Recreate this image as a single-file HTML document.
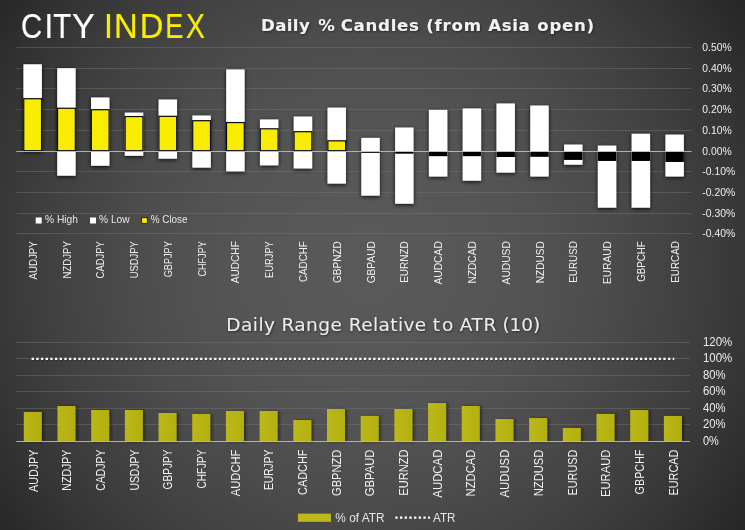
<!DOCTYPE html>
<html lang="en"><head><meta charset="utf-8"><title>City Index - Daily % Candles</title>
<style>
html,body{margin:0;padding:0;background:#262626;}
body{width:745px;height:530px;overflow:hidden;}
svg{display:block;}
text{font-family:"Liberation Sans",Arial,sans-serif;}
.ax{font-size:10.5px;fill:#eeeeee;}
.ax2{font-size:12px;fill:#ededed;}
.cat{font-size:11.2px;fill:#f0f0f0;}
.cat2{font-size:12.3px;fill:#f2f2f2;}
.lg{font-size:10.6px;fill:#e6e6e6;}
.lg2{font-size:11.9px;fill:#e6e6e6;}
.t1{font-family:"DejaVu Sans","Liberation Sans",sans-serif;font-size:16.6px;font-weight:bold;fill:#f2f2f2;}
.t2{font-family:"DejaVu Sans","Liberation Sans",sans-serif;font-size:18.5px;fill:#ececec;}
.logo{font-size:35.5px;}
</style></head><body>
<svg width="745" height="530" viewBox="0 0 745 530">
<defs>
<radialGradient id="bg" gradientUnits="userSpaceOnUse" cx="368" cy="265" r="470">
<stop offset="0.0000" stop-color="#595959"/><stop offset="0.0625" stop-color="#595959"/><stop offset="0.1250" stop-color="#585858"/><stop offset="0.1875" stop-color="#575757"/><stop offset="0.2500" stop-color="#565656"/><stop offset="0.3125" stop-color="#545454"/><stop offset="0.3750" stop-color="#525252"/><stop offset="0.4375" stop-color="#4f4f4f"/><stop offset="0.5000" stop-color="#4c4c4c"/><stop offset="0.5625" stop-color="#484848"/><stop offset="0.6250" stop-color="#444444"/><stop offset="0.6875" stop-color="#404040"/><stop offset="0.7500" stop-color="#3b3b3b"/><stop offset="0.8125" stop-color="#363636"/><stop offset="0.8750" stop-color="#303030"/><stop offset="0.9375" stop-color="#2a2a2a"/><stop offset="1.0000" stop-color="#242424"/>
</radialGradient>
<linearGradient id="bar" x1="0" y1="0" x2="1" y2="0"><stop offset="0" stop-color="#c6c214"/><stop offset="1" stop-color="#bdb912"/></linearGradient>
<filter id="sh" x="-30%" y="-30%" width="160%" height="160%"><feDropShadow dx="0" dy="1.2" stdDeviation="2.1" flood-color="#000" flood-opacity="0.85"/></filter>
<filter id="sh2" x="-30%" y="-30%" width="170%" height="160%"><feDropShadow dx="2" dy="0.3" stdDeviation="1.7" flood-color="#000" flood-opacity="0.5"/></filter>
<filter id="ts" x="-5%" y="-30%" width="110%" height="170%"><feDropShadow dx="0.7" dy="0.9" stdDeviation="0.8" flood-color="#000" flood-opacity="0.55"/></filter>
</defs>
<rect width="745" height="530" fill="url(#bg)"/>

<g stroke="#767676" stroke-opacity="0.45" stroke-width="1">
<line x1="16.3" y1="233.5" x2="691.6" y2="233.5"/>
<line x1="16.3" y1="213.5" x2="691.6" y2="213.5"/>
<line x1="16.3" y1="192.5" x2="691.6" y2="192.5"/>
<line x1="16.3" y1="171.5" x2="691.6" y2="171.5"/>
<line x1="16.3" y1="130.5" x2="691.6" y2="130.5"/>
<line x1="16.3" y1="109.5" x2="691.6" y2="109.5"/>
<line x1="16.3" y1="88.5" x2="691.6" y2="88.5"/>
<line x1="16.3" y1="68.5" x2="691.6" y2="68.5"/>
<line x1="16.3" y1="47.5" x2="691.6" y2="47.5"/>
</g>
<g filter="url(#sh)">
<rect x="23.44" y="64.26" width="18.4" height="86.94" fill="#fff"/>
<rect x="57.23" y="68.20" width="18.4" height="83.00" fill="#fff"/>
<rect x="57.23" y="151.20" width="18.4" height="24.49" fill="#fff"/>
<rect x="91.02" y="97.46" width="18.4" height="53.74" fill="#fff"/>
<rect x="91.02" y="151.20" width="18.4" height="14.53" fill="#fff"/>
<rect x="124.81" y="112.60" width="18.4" height="38.59" fill="#fff"/>
<rect x="124.81" y="151.20" width="18.4" height="4.56" fill="#fff"/>
<rect x="158.61" y="99.53" width="18.4" height="51.67" fill="#fff"/>
<rect x="158.61" y="151.20" width="18.4" height="7.47" fill="#fff"/>
<rect x="192.40" y="115.51" width="18.4" height="35.69" fill="#fff"/>
<rect x="192.40" y="151.20" width="18.4" height="16.39" fill="#fff"/>
<rect x="226.19" y="69.44" width="18.4" height="81.76" fill="#fff"/>
<rect x="226.19" y="151.20" width="18.4" height="20.13" fill="#fff"/>
<rect x="259.97" y="119.45" width="18.4" height="31.75" fill="#fff"/>
<rect x="259.97" y="151.20" width="18.4" height="14.11" fill="#fff"/>
<rect x="293.76" y="116.55" width="18.4" height="34.65" fill="#fff"/>
<rect x="293.76" y="151.20" width="18.4" height="17.22" fill="#fff"/>
<rect x="327.56" y="107.62" width="18.4" height="43.57" fill="#fff"/>
<rect x="327.56" y="151.20" width="18.4" height="32.37" fill="#fff"/>
<rect x="361.35" y="137.92" width="18.4" height="13.28" fill="#fff"/>
<rect x="361.35" y="151.20" width="18.4" height="44.41" fill="#fff"/>
<rect x="395.13" y="127.54" width="18.4" height="23.66" fill="#fff"/>
<rect x="395.13" y="151.20" width="18.4" height="52.50" fill="#fff"/>
<rect x="428.93" y="109.91" width="18.4" height="41.29" fill="#fff"/>
<rect x="428.93" y="151.20" width="18.4" height="25.31" fill="#fff"/>
<rect x="462.71" y="108.45" width="18.4" height="42.75" fill="#fff"/>
<rect x="462.71" y="151.20" width="18.4" height="29.47" fill="#fff"/>
<rect x="496.50" y="103.47" width="18.4" height="47.72" fill="#fff"/>
<rect x="496.50" y="151.20" width="18.4" height="21.37" fill="#fff"/>
<rect x="530.29" y="105.55" width="18.4" height="45.65" fill="#fff"/>
<rect x="530.29" y="151.20" width="18.4" height="25.31" fill="#fff"/>
<rect x="564.08" y="144.56" width="18.4" height="6.64" fill="#fff"/>
<rect x="564.08" y="151.20" width="18.4" height="13.49" fill="#fff"/>
<rect x="597.87" y="145.60" width="18.4" height="5.60" fill="#fff"/>
<rect x="597.87" y="151.20" width="18.4" height="56.44" fill="#fff"/>
<rect x="631.66" y="133.77" width="18.4" height="17.43" fill="#fff"/>
<rect x="631.66" y="151.20" width="18.4" height="56.44" fill="#fff"/>
<rect x="665.45" y="134.60" width="18.4" height="16.60" fill="#fff"/>
<rect x="665.45" y="151.20" width="18.4" height="25.31" fill="#fff"/>
</g>
<g>
<rect x="23.74" y="98.70" width="17.80" height="52.00" fill="#f8ec00" stroke="#070714" stroke-width="1.2"/>
<rect x="57.53" y="108.25" width="17.80" height="42.45" fill="#f8ec00" stroke="#070714" stroke-width="1.2"/>
<rect x="91.32" y="109.70" width="17.80" height="41.00" fill="#f8ec00" stroke="#070714" stroke-width="1.2"/>
<rect x="125.11" y="116.55" width="17.80" height="34.15" fill="#f8ec00" stroke="#070714" stroke-width="1.2"/>
<rect x="158.91" y="116.34" width="17.80" height="34.36" fill="#f8ec00" stroke="#070714" stroke-width="1.2"/>
<rect x="192.70" y="120.70" width="17.80" height="30.00" fill="#f8ec00" stroke="#070714" stroke-width="1.2"/>
<rect x="226.49" y="122.56" width="17.80" height="28.14" fill="#f8ec00" stroke="#070714" stroke-width="1.2"/>
<rect x="260.27" y="128.79" width="17.80" height="21.91" fill="#f8ec00" stroke="#070714" stroke-width="1.2"/>
<rect x="294.06" y="131.69" width="17.80" height="19.00" fill="#f8ec00" stroke="#070714" stroke-width="1.2"/>
<rect x="327.86" y="140.82" width="17.80" height="9.88" fill="#f8ec00" stroke="#070714" stroke-width="1.2"/>
<rect x="361.35" y="151.90" width="18.4" height="0.96" fill="#000"/>
<rect x="395.13" y="151.90" width="18.4" height="1.79" fill="#000"/>
<rect x="428.93" y="151.90" width="18.4" height="4.28" fill="#000"/>
<rect x="462.71" y="151.90" width="18.4" height="4.28" fill="#000"/>
<rect x="496.50" y="151.90" width="18.4" height="5.11" fill="#000"/>
<rect x="530.29" y="151.90" width="18.4" height="4.90" fill="#000"/>
<rect x="564.08" y="151.90" width="18.4" height="8.02" fill="#000"/>
<rect x="597.87" y="151.90" width="18.4" height="9.05" fill="#000"/>
<rect x="631.66" y="151.90" width="18.4" height="9.05" fill="#000"/>
<rect x="665.45" y="151.90" width="18.4" height="10.09" fill="#000"/>
</g>
<line x1="16.3" y1="151.5" x2="691.6" y2="151.5" stroke="#bcbcbc" stroke-opacity="0.9" stroke-width="1"/>
<text class="ax" x="702.3" y="236.8" textLength="33.0" lengthAdjust="spacingAndGlyphs">-0.40%</text>
<text class="ax" x="702.3" y="216.8" textLength="33.0" lengthAdjust="spacingAndGlyphs">-0.30%</text>
<text class="ax" x="702.3" y="195.8" textLength="33.0" lengthAdjust="spacingAndGlyphs">-0.20%</text>
<text class="ax" x="702.3" y="174.8" textLength="33.0" lengthAdjust="spacingAndGlyphs">-0.10%</text>
<text class="ax" x="702.3" y="154.8" textLength="29.4" lengthAdjust="spacingAndGlyphs">0.00%</text>
<text class="ax" x="702.3" y="133.8" textLength="29.4" lengthAdjust="spacingAndGlyphs">0.10%</text>
<text class="ax" x="702.3" y="112.8" textLength="29.4" lengthAdjust="spacingAndGlyphs">0.20%</text>
<text class="ax" x="702.3" y="91.8" textLength="29.4" lengthAdjust="spacingAndGlyphs">0.30%</text>
<text class="ax" x="702.3" y="71.8" textLength="29.4" lengthAdjust="spacingAndGlyphs">0.40%</text>
<text class="ax" x="702.3" y="50.8" textLength="29.4" lengthAdjust="spacingAndGlyphs">0.50%</text>
<text class="cat" transform="translate(36.74,241.2) rotate(-90)" text-anchor="end" textLength="38.3" lengthAdjust="spacingAndGlyphs">AUDJPY</text>
<text class="cat" transform="translate(70.53,241.2) rotate(-90)" text-anchor="end" textLength="37.2" lengthAdjust="spacingAndGlyphs">NZDJPY</text>
<text class="cat" transform="translate(104.32,241.2) rotate(-90)" text-anchor="end" textLength="37.2" lengthAdjust="spacingAndGlyphs">CADJPY</text>
<text class="cat" transform="translate(138.11,241.2) rotate(-90)" text-anchor="end" textLength="37.1" lengthAdjust="spacingAndGlyphs">USDJPY</text>
<text class="cat" transform="translate(171.91,241.2) rotate(-90)" text-anchor="end" textLength="36.1" lengthAdjust="spacingAndGlyphs">GBPJPY</text>
<text class="cat" transform="translate(205.69,241.2) rotate(-90)" text-anchor="end" textLength="35.4" lengthAdjust="spacingAndGlyphs">CHFJPY</text>
<text class="cat" transform="translate(239.48,241.2) rotate(-90)" text-anchor="end" textLength="42.0" lengthAdjust="spacingAndGlyphs">AUDCHF</text>
<text class="cat" transform="translate(273.27,241.2) rotate(-90)" text-anchor="end" textLength="36.7" lengthAdjust="spacingAndGlyphs">EURJPY</text>
<text class="cat" transform="translate(307.06,241.2) rotate(-90)" text-anchor="end" textLength="40.9" lengthAdjust="spacingAndGlyphs">CADCHF</text>
<text class="cat" transform="translate(340.86,241.2) rotate(-90)" text-anchor="end" textLength="41.8" lengthAdjust="spacingAndGlyphs">GBPNZD</text>
<text class="cat" transform="translate(374.65,241.2) rotate(-90)" text-anchor="end" textLength="42.1" lengthAdjust="spacingAndGlyphs">GBPAUD</text>
<text class="cat" transform="translate(408.44,241.2) rotate(-90)" text-anchor="end" textLength="41.6" lengthAdjust="spacingAndGlyphs">EURNZD</text>
<text class="cat" transform="translate(442.23,241.2) rotate(-90)" text-anchor="end" textLength="43.4" lengthAdjust="spacingAndGlyphs">AUDCAD</text>
<text class="cat" transform="translate(476.01,241.2) rotate(-90)" text-anchor="end" textLength="42.3" lengthAdjust="spacingAndGlyphs">NZDCAD</text>
<text class="cat" transform="translate(509.81,241.2) rotate(-90)" text-anchor="end" textLength="43.2" lengthAdjust="spacingAndGlyphs">AUDUSD</text>
<text class="cat" transform="translate(543.60,241.2) rotate(-90)" text-anchor="end" textLength="42.1" lengthAdjust="spacingAndGlyphs">NZDUSD</text>
<text class="cat" transform="translate(577.38,241.2) rotate(-90)" text-anchor="end" textLength="41.5" lengthAdjust="spacingAndGlyphs">EURUSD</text>
<text class="cat" transform="translate(611.17,241.2) rotate(-90)" text-anchor="end" textLength="42.7" lengthAdjust="spacingAndGlyphs">EURAUD</text>
<text class="cat" transform="translate(644.97,241.2) rotate(-90)" text-anchor="end" textLength="40.5" lengthAdjust="spacingAndGlyphs">GBPCHF</text>
<text class="cat" transform="translate(678.75,241.2) rotate(-90)" text-anchor="end" textLength="41.5" lengthAdjust="spacingAndGlyphs">EURCAD</text>
<rect x="35.7" y="217.5" width="6" height="6" fill="#fff"/><text class="lg" x="45" y="223.3" textLength="33.0" lengthAdjust="spacingAndGlyphs">% High</text>
<rect x="90" y="217.5" width="6" height="6" fill="#fff"/><text class="lg" x="99" y="223.3" textLength="30.7" lengthAdjust="spacingAndGlyphs">% Low</text>
<rect x="141.7" y="217.7" width="5.6" height="5.6" fill="#f8ec00" stroke="#1a1a1a" stroke-width="0.8"/><text class="lg" x="150.7" y="223.3" textLength="36.9" lengthAdjust="spacingAndGlyphs">% Close</text>
<g filter="url(#ts)">
<text class="t1" x="261.0" y="31.1" textLength="48.8" lengthAdjust="spacing">Daily</text>
<text class="t1" x="318.29999999999995" y="31.1" textLength="16.3" lengthAdjust="spacing">%</text>
<text class="t1" x="340.7" y="31.1" textLength="78.3" lengthAdjust="spacing">Candles</text>
<text class="t1" x="426.2" y="31.1" textLength="54.8" lengthAdjust="spacing">(from</text>
<text class="t1" x="488.29999999999995" y="31.1" textLength="41.5" lengthAdjust="spacing">Asia</text>
<text class="t1" x="537.3" y="31.1" textLength="56.8" lengthAdjust="spacing">open)</text>
<text class="t2" x="226.29999999999998" y="330.9" textLength="48.7" lengthAdjust="spacing">Daily</text>
<text class="t2" x="281.4" y="330.9" textLength="60.5" lengthAdjust="spacing">Range</text>
<text class="t2" x="348.8" y="330.9" textLength="77.4" lengthAdjust="spacing">Relative</text>
<text class="t2" x="432.8" y="330.9" textLength="20.5" lengthAdjust="spacing">to</text>
<text class="t2" x="459.7" y="330.9" textLength="36.6" lengthAdjust="spacing">ATR</text>
<text class="t2" x="502.4" y="330.9" textLength="37.9" lengthAdjust="spacing">(10)</text>
</g>
<text class="logo" y="38.35" fill="#ffffff" stroke="#ffffff" stroke-width="0.2" stroke-linejoin="round"><tspan x="21.01" textLength="21.21" lengthAdjust="spacingAndGlyphs">C</tspan><tspan x="44.43" textLength="8.64" lengthAdjust="spacingAndGlyphs">I</tspan><tspan x="53.34" textLength="17.93" lengthAdjust="spacingAndGlyphs">T</tspan><tspan x="72.05" textLength="22.80" lengthAdjust="spacingAndGlyphs">Y</tspan></text>
<text class="logo" y="38.35" fill="#f8ec00" stroke="#f8ec00" stroke-width="0.2" stroke-linejoin="round"><tspan x="103.93" textLength="8.94" lengthAdjust="spacingAndGlyphs">I</tspan><tspan x="114.01" textLength="23.66" lengthAdjust="spacingAndGlyphs">N</tspan><tspan x="139.81" textLength="23.65" lengthAdjust="spacingAndGlyphs">D</tspan><tspan x="165.18" textLength="18.09" lengthAdjust="spacingAndGlyphs">E</tspan><tspan x="185.65" textLength="19.26" lengthAdjust="spacingAndGlyphs">X</tspan></text>
<g stroke="#767676" stroke-opacity="0.45" stroke-width="1">
<line x1="16.3" y1="424.5" x2="690" y2="424.5"/>
<line x1="16.3" y1="408.5" x2="690" y2="408.5"/>
<line x1="16.3" y1="391.5" x2="690" y2="391.5"/>
<line x1="16.3" y1="375.5" x2="690" y2="375.5"/>
<line x1="16.3" y1="358.5" x2="690" y2="358.5"/>
<line x1="16.3" y1="342.5" x2="690" y2="342.5"/>
</g>
<g filter="url(#sh2)">
<rect x="23.80" y="411.99" width="18.0" height="29.51" fill="url(#bar)" fill-opacity="0.9"/>
<rect x="57.48" y="406.02" width="18.0" height="35.48" fill="url(#bar)" fill-opacity="0.9"/>
<rect x="91.17" y="410.00" width="18.0" height="31.50" fill="url(#bar)" fill-opacity="0.9"/>
<rect x="124.86" y="410.00" width="18.0" height="31.50" fill="url(#bar)" fill-opacity="0.9"/>
<rect x="158.55" y="412.98" width="18.0" height="28.52" fill="url(#bar)" fill-opacity="0.9"/>
<rect x="192.24" y="413.98" width="18.0" height="27.52" fill="url(#bar)" fill-opacity="0.9"/>
<rect x="225.93" y="410.99" width="18.0" height="30.51" fill="url(#bar)" fill-opacity="0.9"/>
<rect x="259.62" y="410.99" width="18.0" height="30.51" fill="url(#bar)" fill-opacity="0.9"/>
<rect x="293.31" y="420.03" width="18.0" height="21.47" fill="url(#bar)" fill-opacity="0.9"/>
<rect x="327.00" y="409.00" width="18.0" height="32.50" fill="url(#bar)" fill-opacity="0.9"/>
<rect x="360.69" y="415.97" width="18.0" height="25.53" fill="url(#bar)" fill-opacity="0.9"/>
<rect x="394.38" y="409.00" width="18.0" height="32.50" fill="url(#bar)" fill-opacity="0.9"/>
<rect x="428.07" y="403.03" width="18.0" height="38.47" fill="url(#bar)" fill-opacity="0.9"/>
<rect x="461.76" y="406.02" width="18.0" height="35.48" fill="url(#bar)" fill-opacity="0.9"/>
<rect x="495.45" y="419.03" width="18.0" height="22.47" fill="url(#bar)" fill-opacity="0.9"/>
<rect x="529.14" y="418.04" width="18.0" height="23.46" fill="url(#bar)" fill-opacity="0.9"/>
<rect x="562.84" y="427.99" width="18.0" height="13.51" fill="url(#bar)" fill-opacity="0.9"/>
<rect x="596.52" y="413.98" width="18.0" height="27.52" fill="url(#bar)" fill-opacity="0.9"/>
<rect x="630.22" y="410.00" width="18.0" height="31.50" fill="url(#bar)" fill-opacity="0.9"/>
<rect x="663.90" y="415.97" width="18.0" height="25.53" fill="url(#bar)" fill-opacity="0.9"/>
</g>
<line x1="16.3" y1="441.5" x2="690" y2="441.5" stroke="#bcbcbc" stroke-opacity="0.9" stroke-width="1"/>
<line x1="32.3" y1="360" x2="675" y2="360" stroke="#000" stroke-opacity="0.25" stroke-width="2.4" stroke-dasharray="2.33 2.35"/>
<line x1="31.6" y1="358.9" x2="674.3" y2="358.9" stroke="#fff" stroke-width="2.33" stroke-dasharray="2.33 2.35"/>
<text class="ax2" x="702.9" y="444.8" textLength="15.885094375" lengthAdjust="spacingAndGlyphs">0%</text>
<text class="ax2" x="702.9" y="427.8" textLength="22.641321562500003" lengthAdjust="spacingAndGlyphs">20%</text>
<text class="ax2" x="702.9" y="411.8" textLength="22.641321562500003" lengthAdjust="spacingAndGlyphs">40%</text>
<text class="ax2" x="702.9" y="394.8" textLength="22.641321562500003" lengthAdjust="spacingAndGlyphs">60%</text>
<text class="ax2" x="702.9" y="378.8" textLength="22.641321562500003" lengthAdjust="spacingAndGlyphs">80%</text>
<text class="ax2" x="702.9" y="361.8" textLength="29.39754875" lengthAdjust="spacingAndGlyphs">100%</text>
<text class="ax2" x="702.9" y="345.8" textLength="29.39754875" lengthAdjust="spacingAndGlyphs">120%</text>
<text class="cat2" transform="translate(37.50,449.6) rotate(-90)" text-anchor="end" textLength="42.4" lengthAdjust="spacingAndGlyphs">AUDJPY</text>
<text class="cat2" transform="translate(71.19,449.6) rotate(-90)" text-anchor="end" textLength="41.1" lengthAdjust="spacingAndGlyphs">NZDJPY</text>
<text class="cat2" transform="translate(104.88,449.6) rotate(-90)" text-anchor="end" textLength="41.1" lengthAdjust="spacingAndGlyphs">CADJPY</text>
<text class="cat2" transform="translate(138.56,449.6) rotate(-90)" text-anchor="end" textLength="41.0" lengthAdjust="spacingAndGlyphs">USDJPY</text>
<text class="cat2" transform="translate(172.25,449.6) rotate(-90)" text-anchor="end" textLength="39.8" lengthAdjust="spacingAndGlyphs">GBPJPY</text>
<text class="cat2" transform="translate(205.94,449.6) rotate(-90)" text-anchor="end" textLength="39.0" lengthAdjust="spacingAndGlyphs">CHFJPY</text>
<text class="cat2" transform="translate(239.63,449.6) rotate(-90)" text-anchor="end" textLength="46.6" lengthAdjust="spacingAndGlyphs">AUDCHF</text>
<text class="cat2" transform="translate(273.32,449.6) rotate(-90)" text-anchor="end" textLength="40.5" lengthAdjust="spacingAndGlyphs">EURJPY</text>
<text class="cat2" transform="translate(307.01,449.6) rotate(-90)" text-anchor="end" textLength="45.3" lengthAdjust="spacingAndGlyphs">CADCHF</text>
<text class="cat2" transform="translate(340.70,449.6) rotate(-90)" text-anchor="end" textLength="46.4" lengthAdjust="spacingAndGlyphs">GBPNZD</text>
<text class="cat2" transform="translate(374.39,449.6) rotate(-90)" text-anchor="end" textLength="46.6" lengthAdjust="spacingAndGlyphs">GBPAUD</text>
<text class="cat2" transform="translate(408.08,449.6) rotate(-90)" text-anchor="end" textLength="46.1" lengthAdjust="spacingAndGlyphs">EURNZD</text>
<text class="cat2" transform="translate(441.77,449.6) rotate(-90)" text-anchor="end" textLength="48.1" lengthAdjust="spacingAndGlyphs">AUDCAD</text>
<text class="cat2" transform="translate(475.46,449.6) rotate(-90)" text-anchor="end" textLength="46.9" lengthAdjust="spacingAndGlyphs">NZDCAD</text>
<text class="cat2" transform="translate(509.15,449.6) rotate(-90)" text-anchor="end" textLength="48.0" lengthAdjust="spacingAndGlyphs">AUDUSD</text>
<text class="cat2" transform="translate(542.85,449.6) rotate(-90)" text-anchor="end" textLength="46.7" lengthAdjust="spacingAndGlyphs">NZDUSD</text>
<text class="cat2" transform="translate(576.54,449.6) rotate(-90)" text-anchor="end" textLength="46.0" lengthAdjust="spacingAndGlyphs">EURUSD</text>
<text class="cat2" transform="translate(610.23,449.6) rotate(-90)" text-anchor="end" textLength="47.4" lengthAdjust="spacingAndGlyphs">EURAUD</text>
<text class="cat2" transform="translate(643.92,449.6) rotate(-90)" text-anchor="end" textLength="44.8" lengthAdjust="spacingAndGlyphs">GBPCHF</text>
<text class="cat2" transform="translate(677.61,449.6) rotate(-90)" text-anchor="end" textLength="46.0" lengthAdjust="spacingAndGlyphs">EURCAD</text>
<rect x="297.9" y="513.6" width="33.1" height="8.2" fill="#bcb81c"/>
<text class="lg2" x="335.3" y="522.2" textLength="49.3" lengthAdjust="spacingAndGlyphs">% of ATR</text>
<line x1="395.3" y1="517.7" x2="430" y2="517.7" stroke="#fff" stroke-width="2.33" stroke-dasharray="2.33 2.35"/>
<text class="lg2" x="433" y="522.2" textLength="22.5" lengthAdjust="spacingAndGlyphs">ATR</text>
</svg></body></html>
